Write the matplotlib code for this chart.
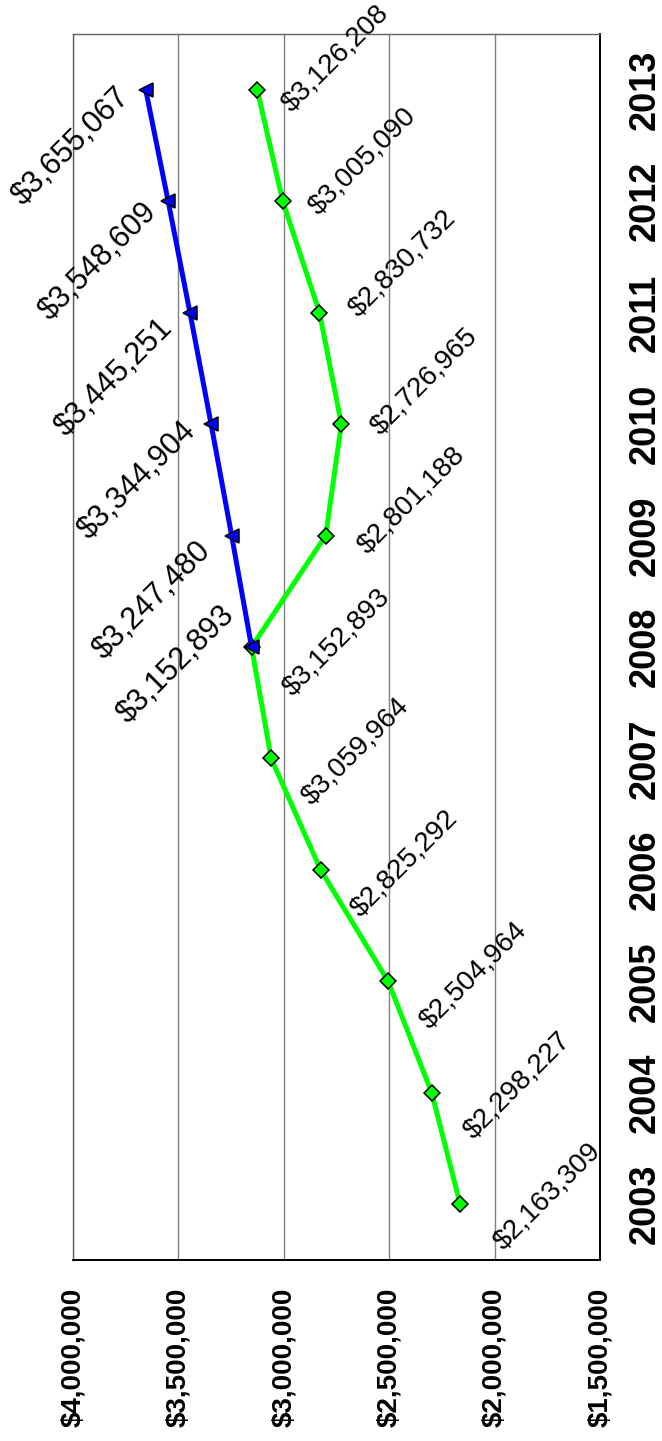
import numpy as np
import matplotlib.pyplot as plt
from matplotlib.ticker import FuncFormatter

plt.rcParams['font.family'] = ['Liberation Sans', 'DejaVu Sans']

years = [2003, 2004, 2005, 2006, 2007, 2008, 2009, 2010, 2011, 2012, 2013]
actual = [2163309, 2298227, 2504964, 2825292, 3059964, 3152893,
          2801188, 2726965, 2830732, 3005090, 3126208]
proj_years = [2008, 2009, 2010, 2011, 2012, 2013]
projected = [3152893, 3247480, 3344904, 3445251, 3548609, 3655067]

value_ticks = [1500000, 2000000, 2500000, 3000000, 3500000, 4000000]

# label offsets in pixels (x right, y up)
green_off = [(43, -46), (42, -47), (41, -48), (40, -48), (40, -47), (41, -50),
             (42, -19), (39, -11), (39, -5), (36, -14), (34, -23)]
blue_off = [(-32, 47), (-36, 0), (-30, 8), (-32, 0), (-27, 4), (-31, 8)]

fig = plt.figure(figsize=(6.62, 14.41), dpi=100)
ax = fig.add_axes([73/662, 1 - 1260/1441, 527/662, 1226/1441])

ax.plot(actual, years, color='#00FF00', lw=3.6, marker='D', ms=8,
        mfc='#00FF00', mec='black', mew=1.1, zorder=3)
ax.plot(projected, proj_years, color='#0000FF', lw=3.6, marker='<', ms=10,
        mfc='#0000FF', mec='black', mew=1.1, zorder=4)

fmt = lambda v: '${:,.0f}'.format(v)

for x, y, (dx, dy) in zip(actual, years, green_off):
    ax.annotate(fmt(x), (x, y), xytext=(dx, dy), textcoords='offset pixels',
                rotation=45, rotation_mode='anchor', ha='left', va='baseline',
                fontsize=20, zorder=5)
for x, y, (dx, dy) in zip(projected, proj_years, blue_off):
    ax.annotate(fmt(x), (x, y), xytext=(dx, dy), textcoords='offset pixels',
                rotation=45, rotation_mode='anchor', ha='right', va='top',
                fontsize=22, zorder=5)

ax.set_xlim(4000000, 1500000)
ax.set_ylim(2002.5, 2013.5)
ax.set_xticks(value_ticks)
ax.xaxis.set_major_formatter(FuncFormatter(lambda v, p: fmt(v)))
ax.set_yticks(years)
ax.yaxis.tick_right()

ax.tick_params(axis='x', length=0, pad=20, labelsize=20, labelrotation=90)
ax.tick_params(axis='y', length=0, pad=20, labelsize=26, labelrotation=90)
for lab in ax.get_xticklabels() + ax.get_yticklabels():
    lab.set_fontweight('bold')
for lab in ax.get_yticklabels():
    lab.set_va('center')

ax.grid(axis='x', color='#808080', lw=1)
ax.set_axisbelow(True)
ax.spines['top'].set_color('#606060')
ax.spines['left'].set_color('#606060')
ax.spines['top'].set_linewidth(1)
ax.spines['left'].set_linewidth(1)
ax.spines['right'].set_linewidth(1.4)
ax.spines['bottom'].set_linewidth(1.4)

plt.savefig('out.png', dpi=100)
